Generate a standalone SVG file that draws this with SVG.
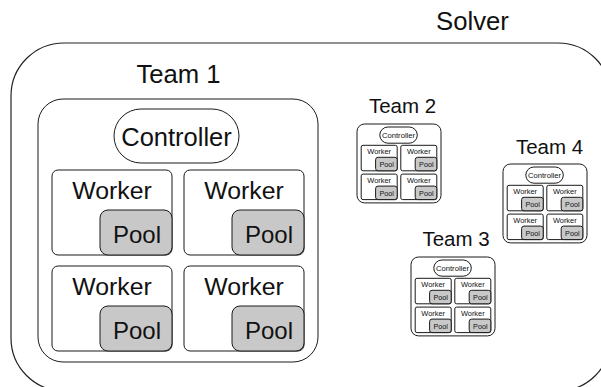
<svg xmlns="http://www.w3.org/2000/svg" width="601" height="387" viewBox="0 0 601 387">
<style>
text{font-family:"Liberation Sans",Arial,sans-serif;fill:#111;text-anchor:middle}
.solver{fill:#fff;stroke:#222;stroke-width:1.2}
.box,.ctrl,.worker{fill:#fff;stroke:#1a1a1a;stroke-width:1;vector-effect:non-scaling-stroke}
.pool{fill:#c8c8c8;stroke:#1a1a1a;stroke-width:1;vector-effect:non-scaling-stroke}
.big{font-size:25.7px}
.small{font-size:20.5px}
.tc{font-size:25.5px}
.tw{font-size:24.8px}
.tp{font-size:24px}
</style>
<defs>
<g id="teamBody">
</g>
</defs>
<rect id="bg" x="0" y="0" width="601" height="387" fill="#fff"/>
<g id="solver">
<rect class="solver" x="11" y="43" width="600" height="348" rx="53"/>
<text class="big" x="472.5" y="30">Solver</text>
</g>
<g id="connectors"></g>
<g id="team1-label"><text class="big" x="178.5" y="83">Team 1</text></g>
<g id="team1" transform="translate(38,99)">
<rect class="box" x="0" y="0" width="280" height="263" rx="25"/>
<g id="team1-controller"><rect class="ctrl" x="76" y="10" width="125" height="54" rx="27"/><text class="tc" x="138.5" y="46.5">Controller</text></g>
<g id="team1-worker1"><rect class="worker" x="14" y="71" width="120" height="85" rx="6"/><text class="tw" x="74" y="100">Worker</text><rect class="pool" x="62" y="111" width="72" height="45" rx="8"/><text class="tp" x="99" y="144">Pool</text></g>
<g id="team1-worker2"><rect class="worker" x="146" y="71" width="120" height="85" rx="6"/><text class="tw" x="206" y="100">Worker</text><rect class="pool" x="194" y="111" width="72" height="45" rx="8"/><text class="tp" x="231" y="144">Pool</text></g>
<g id="team1-worker3"><rect class="worker" x="14" y="167" width="120" height="85" rx="6"/><text class="tw" x="74" y="196">Worker</text><rect class="pool" x="62" y="207" width="72" height="45" rx="8"/><text class="tp" x="99" y="240">Pool</text></g>
<g id="team1-worker4"><rect class="worker" x="146" y="167" width="120" height="85" rx="6"/><text class="tw" x="206" y="196">Worker</text><rect class="pool" x="194" y="207" width="72" height="45" rx="8"/><text class="tp" x="231" y="240">Pool</text></g>
</g>
<g id="team2-label"><text class="small" x="402.5" y="113">Team 2</text></g>
<g id="team2" transform="translate(357,124) scale(0.3)">
<rect class="box" x="0" y="0" width="280" height="263" rx="25"/>
<rect class="ctrl" x="76" y="10" width="125" height="54" rx="27"/><text class="tc" x="138.5" y="46.5">Controller</text>
<rect class="worker" x="14" y="71" width="120" height="85" rx="6"/><text class="tw" x="74" y="100">Worker</text><rect class="pool" x="62" y="111" width="72" height="45" rx="8"/><text class="tp" x="99" y="144">Pool</text>
<rect class="worker" x="146" y="71" width="120" height="85" rx="6"/><text class="tw" x="206" y="100">Worker</text><rect class="pool" x="194" y="111" width="72" height="45" rx="8"/><text class="tp" x="231" y="144">Pool</text>
<rect class="worker" x="14" y="167" width="120" height="85" rx="6"/><text class="tw" x="74" y="196">Worker</text><rect class="pool" x="62" y="207" width="72" height="45" rx="8"/><text class="tp" x="99" y="240">Pool</text>
<rect class="worker" x="146" y="167" width="120" height="85" rx="6"/><text class="tw" x="206" y="196">Worker</text><rect class="pool" x="194" y="207" width="72" height="45" rx="8"/><text class="tp" x="231" y="240">Pool</text>
</g>
<g id="team4-label"><text class="small" x="549.5" y="154">Team 4</text></g>
<g id="team4" transform="translate(503,164) scale(0.3)">
<rect class="box" x="0" y="0" width="280" height="263" rx="25"/>
<rect class="ctrl" x="76" y="10" width="125" height="54" rx="27"/><text class="tc" x="138.5" y="46.5">Controller</text>
<rect class="worker" x="14" y="71" width="120" height="85" rx="6"/><text class="tw" x="74" y="100">Worker</text><rect class="pool" x="62" y="111" width="72" height="45" rx="8"/><text class="tp" x="99" y="144">Pool</text>
<rect class="worker" x="146" y="71" width="120" height="85" rx="6"/><text class="tw" x="206" y="100">Worker</text><rect class="pool" x="194" y="111" width="72" height="45" rx="8"/><text class="tp" x="231" y="144">Pool</text>
<rect class="worker" x="14" y="167" width="120" height="85" rx="6"/><text class="tw" x="74" y="196">Worker</text><rect class="pool" x="62" y="207" width="72" height="45" rx="8"/><text class="tp" x="99" y="240">Pool</text>
<rect class="worker" x="146" y="167" width="120" height="85" rx="6"/><text class="tw" x="206" y="196">Worker</text><rect class="pool" x="194" y="207" width="72" height="45" rx="8"/><text class="tp" x="231" y="240">Pool</text>
</g>
<g id="team3-label"><text class="small" x="456" y="246">Team 3</text></g>
<g id="team3" transform="translate(411,257) scale(0.3)">
<rect class="box" x="0" y="0" width="280" height="263" rx="25"/>
<rect class="ctrl" x="76" y="10" width="125" height="54" rx="27"/><text class="tc" x="138.5" y="46.5">Controller</text>
<rect class="worker" x="14" y="71" width="120" height="85" rx="6"/><text class="tw" x="74" y="100">Worker</text><rect class="pool" x="62" y="111" width="72" height="45" rx="8"/><text class="tp" x="99" y="144">Pool</text>
<rect class="worker" x="146" y="71" width="120" height="85" rx="6"/><text class="tw" x="206" y="100">Worker</text><rect class="pool" x="194" y="111" width="72" height="45" rx="8"/><text class="tp" x="231" y="144">Pool</text>
<rect class="worker" x="14" y="167" width="120" height="85" rx="6"/><text class="tw" x="74" y="196">Worker</text><rect class="pool" x="62" y="207" width="72" height="45" rx="8"/><text class="tp" x="99" y="240">Pool</text>
<rect class="worker" x="146" y="167" width="120" height="85" rx="6"/><text class="tw" x="206" y="196">Worker</text><rect class="pool" x="194" y="207" width="72" height="45" rx="8"/><text class="tp" x="231" y="240">Pool</text>
</g>
</svg>
